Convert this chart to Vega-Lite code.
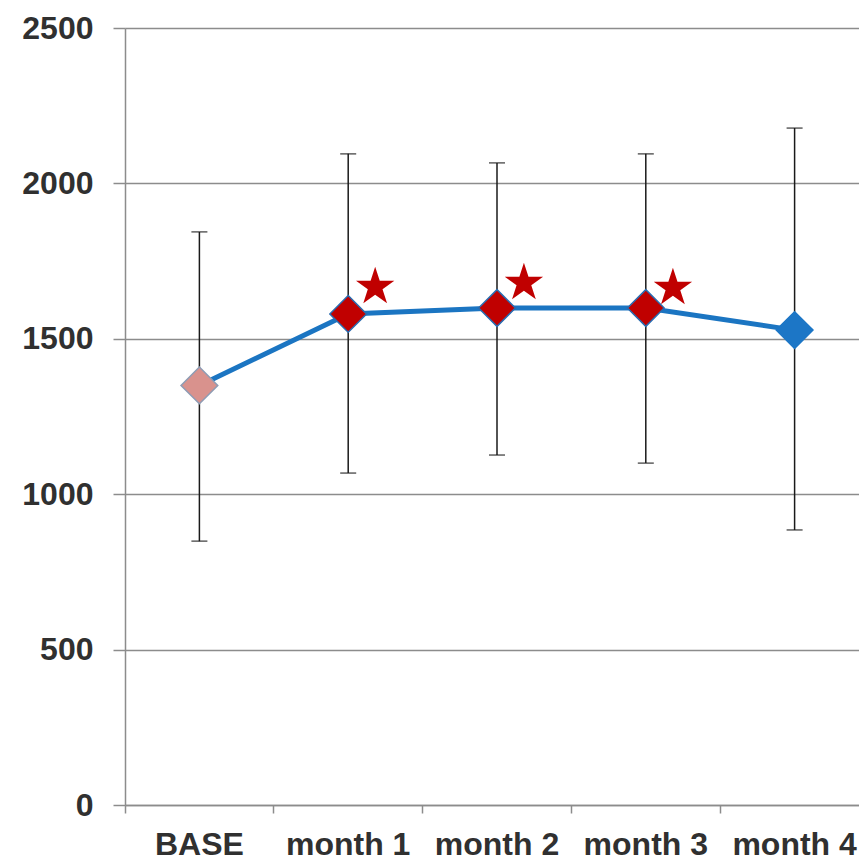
{
  "$schema": "https://vega.github.io/schema/vega-lite/v6.json",
  "autosize": {"type": "none"},
  "padding": {"left": 125, "top": 28, "right": 0, "bottom": 56},
  "width": 744,
  "height": 777,
  "background": "white",
  "config": {
    "view": {"stroke": null},
    "font": "Liberation Sans",
    "axis": {
      "labelFont": "Liberation Sans",
      "labelFontWeight": "bold",
      "labelFontSize": 32,
      "labelColor": "#303030",
      "domainColor": "#8c8c8c",
      "domainWidth": 1.5,
      "tickColor": "#8c8c8c",
      "tickWidth": 1.5,
      "gridColor": "#8c8c8c",
      "gridWidth": 1.5,
      "title": null
    }
  },
  "datasets": {
    "main": [
      {"period": "BASE", "mean": 1350, "low": 849, "high": 1844, "group": "base"},
      {"period": "month 1", "mean": 1580, "low": 1068, "high": 2095, "group": "sig"},
      {"period": "month 2", "mean": 1599, "low": 1126, "high": 2066, "group": "sig"},
      {"period": "month 3", "mean": 1599, "low": 1100, "high": 2095, "group": "sig"},
      {"period": "month 4", "mean": 1528, "low": 885, "high": 2178, "group": "last"}
    ],
    "stars": [
      {"period": "month 1", "star": 1665},
      {"period": "month 2", "star": 1675},
      {"period": "month 3", "star": 1660}
    ]
  },
  "encoding": {
    "x": {
      "field": "period",
      "type": "nominal",
      "sort": ["BASE", "month 1", "month 2", "month 3", "month 4"],
      "scale": {"paddingInner": 0, "paddingOuter": 0},
      "axis": {
        "orient": "bottom",
        "labelAngle": 0,
        "bandPosition": 0,
        "tickSize": 8,
        "labelPadding": 16,
        "grid": false,
        "labelBaseline": "top"
      }
    }
  },
  "layer": [
    {
      "data": {"name": "main"},
      "mark": {"type": "rule", "color": "#1a1a1a", "strokeWidth": 1.5},
      "encoding": {
        "y": {
          "field": "low",
          "type": "quantitative",
          "scale": {"domain": [0, 2500], "nice": false},
          "axis": {
            "orient": "left",
            "values": [0, 500, 1000, 1500, 2000, 2500],
            "format": "d",
            "tickSize": 12,
            "labelPadding": 20,
            "grid": true,
            "domain": true
          }
        },
        "y2": {"field": "high"}
      }
    },
    {
      "data": {"name": "main"},
      "mark": {"type": "tick", "color": "#1a1a1a", "size": 16, "thickness": 1.5, "orient": "horizontal"},
      "encoding": {"y": {"field": "low", "type": "quantitative"}}
    },
    {
      "data": {"name": "main"},
      "mark": {"type": "tick", "color": "#1a1a1a", "size": 16, "thickness": 1.5, "orient": "horizontal"},
      "encoding": {"y": {"field": "high", "type": "quantitative"}}
    },
    {
      "data": {"name": "main"},
      "mark": {"type": "line", "color": "#1b75c2", "strokeWidth": 5},
      "encoding": {"y": {"field": "mean", "type": "quantitative"}}
    },
    {
      "data": {"name": "main"},
      "mark": {"type": "point", "shape": "diamond", "filled": true, "size": 1350, "opacity": 1, "strokeWidth": 1.5},
      "encoding": {
        "y": {"field": "mean", "type": "quantitative"},
        "fill": {
          "field": "group",
          "type": "nominal",
          "scale": {"domain": ["base", "sig", "last"], "range": ["#d9928d", "#c00000", "#1c76c6"]},
          "legend": null
        },
        "stroke": {
          "field": "group",
          "type": "nominal",
          "scale": {"domain": ["base", "sig", "last"], "range": ["#8e9cb4", "#2a6cb0", "#1c76c6"]},
          "legend": null
        }
      }
    },
    {
      "data": {"name": "stars"},
      "mark": {"type": "text", "text": "★", "font": "DejaVu Sans", "fontSize": 50, "color": "#c00000", "dx": 27, "baseline": "middle", "align": "center"},
      "encoding": {
        "y": {"field": "star", "type": "quantitative"}
      }
    }
  ]
}
